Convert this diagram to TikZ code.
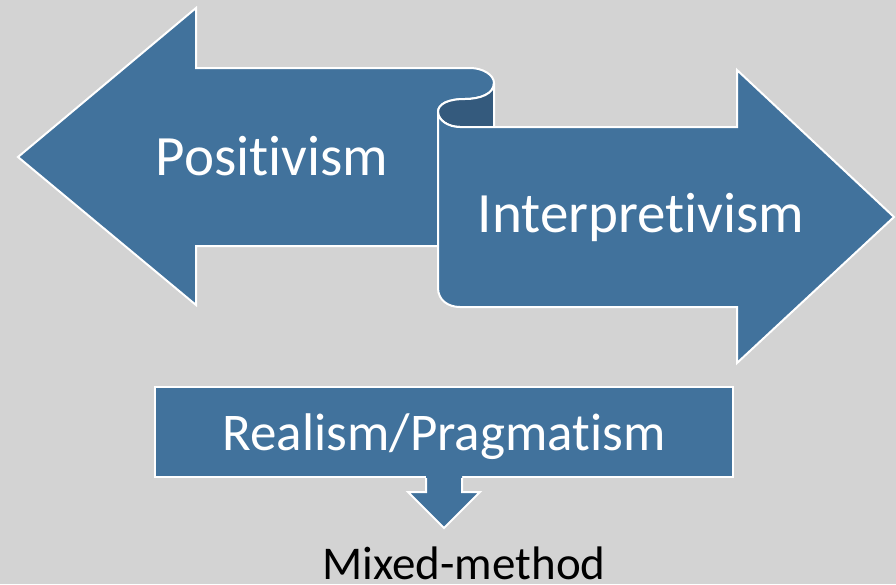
\documentclass[tikz,border=0pt]{standalone}
\usepackage{fontspec}
\setmainfont[Ligatures = {NoCommon, NoContextual}]{Carlito}
\definecolor{arrowblue}{RGB}{65,114,156}
\definecolor{curlblue}{RGB}{52,90,125}
\definecolor{backgray}{RGB}{211,211,211}
\tikzset{
    outline/.style = {draw = white, line width = 2pt, line join = miter},
    biglabel/.style = {anchor = base, text = white, inner sep = 0pt, font = \fontsize{57}{60}\selectfont},
}
\begin{document}
\begin{tikzpicture}[x = 1pt, y = -1pt]
        \fill[backgray] (0,0) rectangle (896,584);
        \useasboundingbox (0,0) rectangle (896,584);
        \begin{scope}[style = outline]
            \draw[fill = arrowblue] (18,157) -- (196,8) -- (196,68) -- (470,68)
                .. controls (483,68) and (494,75) .. (494,83)
                .. controls (494,94) and (480,99) .. (465,99)
                .. controls (448,99) and (438,104) .. (438,112)
                -- (438,246) -- (196,246) -- (196,305) -- cycle;
            \draw[fill = curlblue] (438,112) .. controls (438,104) and (448,99) .. (465,99)
                .. controls (480,99) and (494,94) .. (494,83) -- (494,127) -- (460,127)
                .. controls (448,127) and (438,120) .. (438,112) -- cycle;
            \draw[fill = arrowblue] (438,112) .. controls (438,120) and (448,127) .. (460,127)
                -- (737,127) -- (737,70) -- (894,217) -- (737,363) -- (737,307) -- (460,307)
                .. controls (448,307) and (438,300) .. (438,288) -- cycle;
        \end{scope}
        \node[biglabel] (pos) at (272,175) {Positivism};
        \node[biglabel] (int) at (641,232) {Interpretivism};
        \node[outline, fill = arrowblue, text = white, inner sep = 0pt,
              minimum width = 578pt, minimum height = 90pt,
              text height = 36pt, text depth = 0pt,
              font = \fontsize{53}{56}\selectfont] (rp) at (444,432) {Realism/Pragmatism};
        \fill[arrowblue] ([xshift = -18pt, yshift = 3pt]rp.south) -- ++(0,17) -- ++(-18,0)
            -- ++(36,36) -- ++(36,-36) -- ++(-18,0) -- ++(0,-17) -- cycle;
        \draw[outline] ([xshift = -18pt]rp.south) -- ++(0,14) -- ++(-18,0)
            -- ++(36,36) -- ++(36,-36) -- ++(-18,0) -- ++(0,-14);
        \node[anchor = base, inner sep = 0pt, font = \fontsize{47}{50}\selectfont] (mixed) at (464,579) {Mixed-method};
    \end{tikzpicture}
\end{document}
